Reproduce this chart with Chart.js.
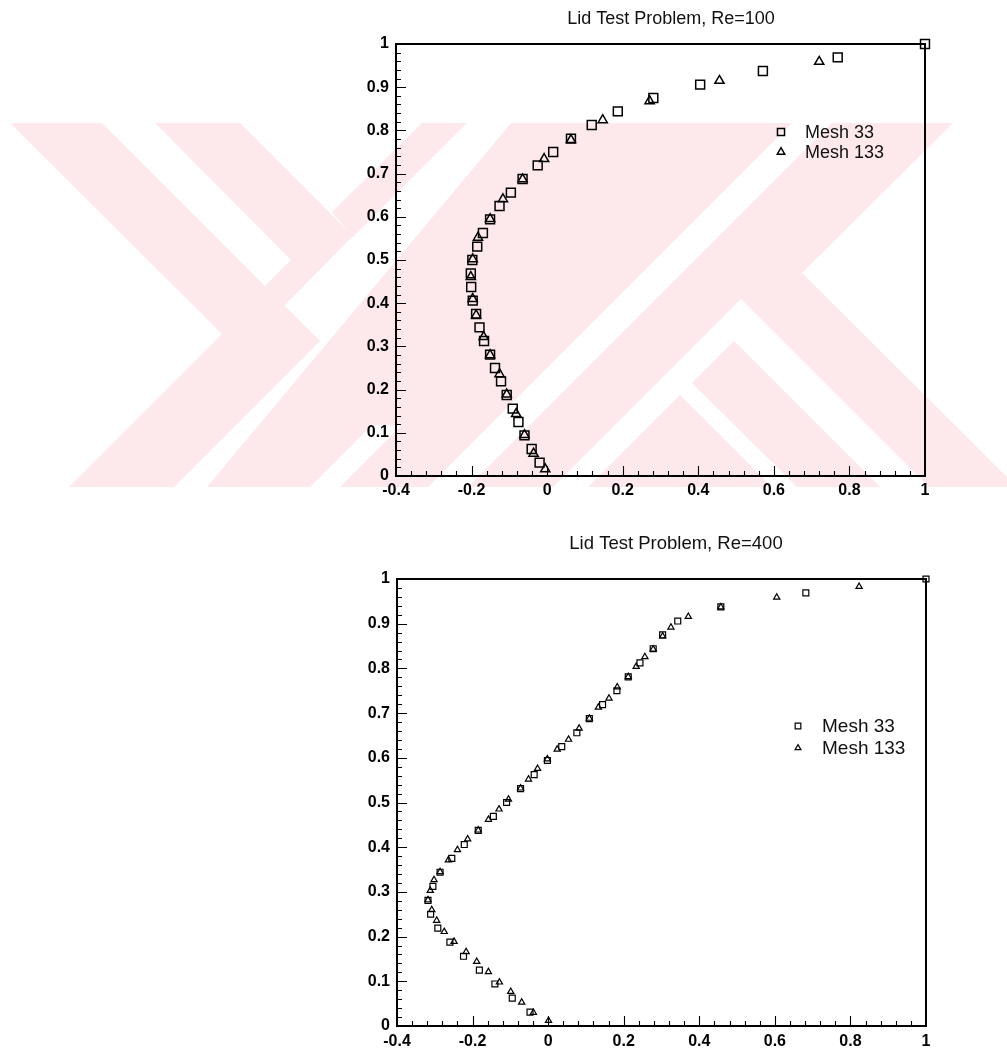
<!DOCTYPE html>
<html>
<head>
<meta charset="utf-8">
<script src="https://cdn.jsdelivr.net/npm/chart.js@4.4.1/dist/chart.umd.min.js"></script>
<style>
html,body{margin:0;padding:0;background:#fff;width:1007px;height:1057px;overflow:hidden;}
#wm{position:absolute;left:0;top:0;}
canvas{position:absolute;left:0;}
#c1{top:0;}
#c2{top:530px;}
</style>
</head>
<body>
<svg id="wm" width="1007" height="1057" xmlns="http://www.w3.org/2000/svg">
  <defs><clipPath id="cp"><rect x="0" y="123" width="1007" height="364"/></clipPath></defs>
  <g clip-path="url(#cp)" fill="#fde9ec">
    <polygon points="10,123 102,123 320,341 174,487 69,487 222,334"/>
    <polygon points="155,123 240,123 353,236 284,306 265,286 291,260"/>
    <polygon points="422,123 467,123 353,237 332,212"/>
    <polygon points="207,487 428,487 792,123 511,123"/>
    <polygon points="468,487 553,487 741,299 758,316 802,273 953,123 832,123"/>
    <polygon points="802,273 758,316 929,487 1007,487 1007,477"/>
    <polygon points="734,341 692,383 797,487 880,487"/>
    <polygon points="680,395 772,487 588,487"/>
  </g>
  <g clip-path="url(#cp)" fill="#ffffff">
    <polygon points="310,487 340,487 402,425 372,425"/>
  </g>
</svg>
<canvas id="c1" width="1007" height="520"></canvas>
<canvas id="c2" width="1007" height="527"></canvas>
<script>
// ---------- tick values / labels ----------
const xTickValues = [-0.4, -0.2, 0, 0.2, 0.4, 0.6, 0.8, 1];
const xTickLabels = ['-0.4', '-0.2', '0', '0.2', '0.4', '0.6', '0.8', '1'];
const yTickValues = [0, 0.1, 0.2, 0.3, 0.4, 0.5, 0.6, 0.7, 0.8, 0.9, 1];
const yTickLabels = ['0', '0.1', '0.2', '0.3', '0.4', '0.5', '0.6', '0.7', '0.8', '0.9', '1'];

// ---------- Re = 100 ----------
const re100Mesh33U = [-0.020,-0.041,-0.060,-0.076,-0.091,-0.107,-0.122,-0.138,-0.151,-0.167,-0.179,-0.188,-0.197,-0.201,-0.202,-0.198,-0.185,-0.170,-0.151,-0.126,-0.096,-0.065,-0.025,0.016,0.063,0.118,0.187,0.281,0.405,0.571,0.769,1.0];
const re100Mesh33Y = [0.031,0.0625,0.094,0.125,0.156,0.1875,0.219,0.25,0.281,0.3125,0.344,0.375,0.406,0.4375,0.469,0.5,0.531,0.5625,0.594,0.625,0.656,0.6875,0.719,0.75,0.781,0.8125,0.844,0.875,0.906,0.9375,0.969,1.0];
const re100Mesh133U = [-0.005,-0.036,-0.060,-0.082,-0.107,-0.126,-0.151,-0.168,-0.188,-0.197,-0.202,-0.197,-0.183,-0.151,-0.117,-0.065,-0.008,0.063,0.147,0.271,0.456,0.720];
const re100Mesh133Y = [0.016,0.052,0.095,0.144,0.189,0.236,0.280,0.322,0.372,0.410,0.461,0.502,0.552,0.595,0.641,0.687,0.734,0.778,0.824,0.868,0.915,0.959];

// ---------- Re = 400 ----------
const re400Mesh33U = [-0.048,-0.095,-0.141,-0.182,-0.224,-0.260,-0.292,-0.311,-0.318,-0.305,-0.286,-0.255,-0.222,-0.185,-0.145,-0.110,-0.073,-0.037,-0.002,0.036,0.076,0.109,0.144,0.182,0.212,0.243,0.278,0.303,0.343,0.457,0.682,1.0];
const re400Mesh33Y = [0.031,0.0625,0.094,0.125,0.156,0.1875,0.219,0.25,0.281,0.3125,0.344,0.375,0.406,0.4375,0.469,0.5,0.531,0.5625,0.594,0.625,0.656,0.6875,0.719,0.75,0.781,0.8125,0.844,0.875,0.906,0.9375,0.969,1.0];
const re400Mesh133U = [0.001,-0.039,-0.070,-0.099,-0.129,-0.158,-0.189,-0.217,-0.249,-0.275,-0.295,-0.308,-0.318,-0.312,-0.302,-0.286,-0.264,-0.240,-0.213,-0.185,-0.158,-0.130,-0.105,-0.073,-0.052,-0.028,-0.002,0.024,0.054,0.082,0.109,0.133,0.161,0.183,0.212,0.233,0.256,0.278,0.303,0.325,0.371,0.457,0.605,0.823];
const re400Mesh133Y = [0.012,0.030,0.053,0.077,0.098,0.121,0.144,0.166,0.189,0.211,0.236,0.260,0.282,0.303,0.327,0.345,0.371,0.394,0.418,0.438,0.462,0.485,0.507,0.532,0.552,0.576,0.597,0.619,0.641,0.666,0.688,0.713,0.733,0.758,0.781,0.804,0.826,0.843,0.872,0.892,0.916,0.937,0.959,0.983];

const FONT = "'Liberation Sans', Arial, Helvetica, sans-serif";

function toXY(us, ys) { return us.map((u, i) => ({ x: u, y: ys[i] })); }

const frameTicks = {
  id: 'frameTicks',
  beforeDatasetsDraw(chart, args, o) {
    const { ctx, chartArea: a, scales: { x, y } } = chart;
    ctx.save();
    ctx.strokeStyle = '#000';
    ctx.lineWidth = 1.1;
    ctx.beginPath();
    const nx = Math.round((x.max - x.min) / o.xMinor);
    for (let i = 1; i < nx; i++) {
      const v = x.min + i * o.xMinor;
      const major = i % o.xPer === 0;
      const px = Math.round(x.getPixelForValue(v)) + 0.5;
      ctx.moveTo(px, a.bottom);
      ctx.lineTo(px, a.bottom - (major ? o.major : o.minor));
    }
    const ny = Math.round((y.max - y.min) / o.yMinor);
    for (let i = 1; i < ny; i++) {
      const v = y.min + i * o.yMinor;
      const major = i % o.yPer === 0;
      const py = Math.round(y.getPixelForValue(v)) + 0.5;
      ctx.moveTo(a.left, py);
      ctx.lineTo(a.left + (major ? o.major : o.minor), py);
    }
    ctx.stroke();
    ctx.lineWidth = 2;
    ctx.strokeRect(a.left, a.top, a.right - a.left, a.bottom - a.top);
    ctx.restore();
  }
};

const labelsPlugin = {
  id: 'labelsPlugin',
  afterDatasetsDraw(chart, args, o) {
    const { ctx, chartArea: a } = chart;
    ctx.save();
    ctx.fillStyle = '#111';
    ctx.textBaseline = 'middle';
    ctx.font = `${o.titleSize}px ${FONT}`;
    ctx.textAlign = 'center';
    ctx.fillText(o.title, (a.left + a.right) / 2 + o.titleDx, a.top - o.titleUp);
    ctx.textAlign = 'left';
    ctx.font = `${o.legendSize}px ${FONT}`;
    const ds = chart.data.datasets;
    ds.forEach((d, i) => {
      const yy = a.top + o.legendTop + i * o.legendGap;
      const mx = a.right - o.legendMarkerRight;
      ctx.strokeStyle = '#000';
      ctx.fillStyle = 'rgba(0,0,0,0)';
      ctx.lineWidth = d.borderWidth;
      Chart.helpers.drawPoint(ctx, { pointStyle: d.pointStyle, radius: o.legendRadius[i], rotation: 0, borderWidth: d.borderWidth }, mx, yy);
      ctx.fillStyle = '#111';
      ctx.fillText(d.label, a.right - o.legendTextRight, yy + 1);
    });
    ctx.restore();
  }
};

function makeChart(id, c) {
  const tickFont = { family: FONT, size: 16, weight: 'bold' };
  return new Chart(document.getElementById(id), {
    type: 'scatter',
    data: {
      datasets: [
        { label: 'Mesh 33', data: toXY(c.u33, c.y33), pointStyle: 'rect', pointRadius: c.rs,
          borderColor: '#000', backgroundColor: 'rgba(0,0,0,0)', borderWidth: c.bw, clip: false },
        { label: 'Mesh 133', data: toXY(c.u133, c.y133), pointStyle: 'triangle', pointRadius: c.rt,
          borderColor: '#000', backgroundColor: 'rgba(0,0,0,0)', borderWidth: c.bw, clip: false }
      ]
    },
    options: {
      responsive: false,
      animation: false,
      devicePixelRatio: 1,
      events: [],
      layout: { padding: c.pad },
      plugins: {
        legend: { display: false },
        tooltip: { enabled: false },
        title: { display: false },
        frameTicks: { xMinor: 0.04, xPer: 5, yMinor: 0.02, yPer: 5, major: 10, minor: 5 },
        labelsPlugin: c.labels
      },
      scales: {
        x: {
          type: 'linear', position: 'bottom', min: -0.4, max: 1,
          afterBuildTicks: s => { s.ticks = xTickValues.map(v => ({ value: v })); },
          afterFit: s => { s.height = 30; },
          ticks: { callback: v => xTickLabels[xTickValues.findIndex(t => Math.abs(t - v) < 1e-9)],
                   font: tickFont, color: '#000', padding: c.xPad, maxRotation: 0, autoSkip: false },
          grid: { display: false, drawTicks: false },
          border: { display: false }
        },
        y: {
          type: 'linear', position: 'left', min: 0, max: 1,
          afterBuildTicks: s => { s.ticks = yTickValues.map(v => ({ value: v })); },
          afterFit: s => { s.width = 40; },
          ticks: { callback: v => yTickLabels[yTickValues.findIndex(t => Math.abs(t - v) < 1e-9)],
                   font: tickFont, color: '#000', padding: 7, autoSkip: false },
          grid: { display: false, drawTicks: false },
          border: { display: false }
        }
      }
    },
    plugins: [frameTicks, labelsPlugin]
  });
}

makeChart('c1', {
  u33: re100Mesh33U, y33: re100Mesh33Y, u133: re100Mesh133U, y133: re100Mesh133Y,
  rs: 6.3, rt: 5.3, bw: 1.5, xPad: 5,
  pad: { left: 356, right: 82, top: 44, bottom: 14 },
  labels: { title: 'Lid Test Problem, Re=100', titleSize: 18, titleDx: 10.5, titleUp: 25,
            legendSize: 18, legendTop: 88, legendGap: 20, legendMarkerRight: 144, legendTextRight: 120,
            legendRadius: [5, 4.3] }
});

makeChart('c2', {
  u33: re400Mesh33U, y33: re400Mesh33Y, u133: re400Mesh133U, y133: re400Mesh133Y,
  rs: 4.2, rt: 3.6, bw: 1.2, xPad: 6,
  pad: { left: 357, right: 81, top: 49, bottom: 1 },
  labels: { title: 'Lid Test Problem, Re=400', titleSize: 18.5, titleDx: 14.5, titleUp: 35,
            legendSize: 19, legendTop: 147, legendGap: 22, legendMarkerRight: 128, legendTextRight: 104,
            legendRadius: [4, 3.4] }
});
</script>
</body>
</html>
